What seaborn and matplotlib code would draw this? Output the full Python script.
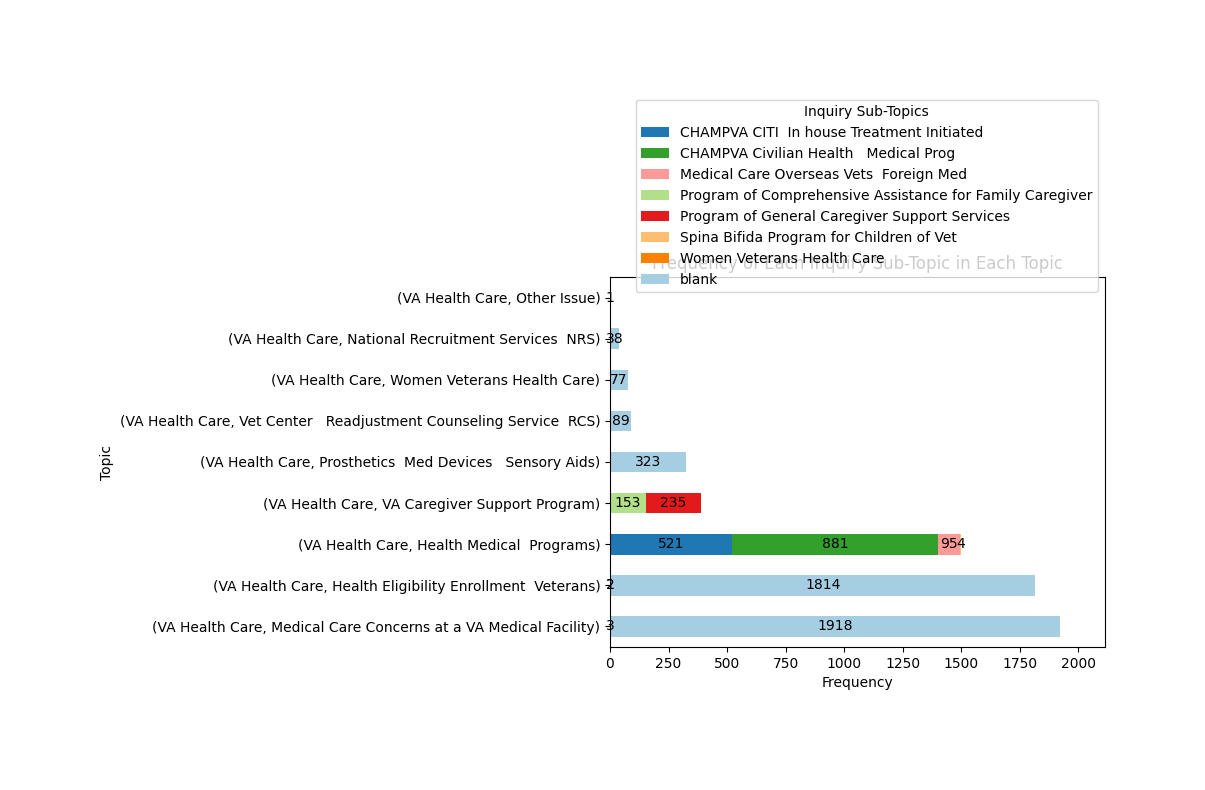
import matplotlib
matplotlib.use("Agg")
import matplotlib.pyplot as plt
import seaborn as sns
import numpy as np

# Topics listed top to bottom as drawn
topics = [
    "(VA Health Care, Other Issue)",
    "(VA Health Care, National Recruitment Services  NRS)",
    "(VA Health Care, Women Veterans Health Care)",
    "(VA Health Care, Vet Center   Readjustment Counseling Service  RCS)",
    "(VA Health Care, Prosthetics  Med Devices   Sensory Aids)",
    "(VA Health Care, VA Caregiver Support Program)",
    "(VA Health Care, Health Medical  Programs)",
    "(VA Health Care, Health Eligibility Enrollment  Veterans)",
    "(VA Health Care, Medical Care Concerns at a VA Medical Facility)",
]

subtopics = [
    "CHAMPVA CITI  In house Treatment Initiated",
    "CHAMPVA Civilian Health   Medical Prog",
    "Medical Care Overseas Vets  Foreign Med",
    "Program of Comprehensive Assistance for Family Caregiver",
    "Program of General Caregiver Support Services",
    "Spina Bifida Program for Children of Vet",
    "Women Veterans Health Care",
    "blank",
]

champva_citi   = [0, 0, 0, 0, 0, 0, 521, 0, 0]
champva_civil  = [0, 0, 0, 0, 0, 0, 881, 0, 0]
overseas       = [0, 0, 0, 0, 0, 0, 95, 1, 0]
comprehensive  = [0, 0, 0, 0, 0, 153, 0, 0, 0]
general_care   = [0, 0, 0, 0, 0, 235, 0, 0, 0]
spina_bifida   = [0, 0, 0, 0, 0, 0, 4, 0, 0]
women_vets     = [0, 0, 0, 0, 0, 0, 0, 2, 3]
blank          = [1, 38, 77, 89, 323, 0, 0, 1814, 1918]

series = [champva_citi, champva_civil, overseas, comprehensive,
          general_care, spina_bifida, women_vets, blank]

colors = ["#1f78b4", "#33a02c", "#fb9a99", "#b2df8a",
          "#e31a1c", "#fdbf6f", "#ff7f00", "#a6cee3"]

fig = plt.figure(figsize=(12.05, 7.9), dpi=100)
ax = fig.add_axes([610 / 1205, 1 - 647 / 790, 495 / 1205, 370 / 790])

left = np.zeros(len(topics))
for name, vals, col in zip(subtopics, series, colors):
    vals = np.array(vals, dtype=float)
    sns.barplot(x=vals, y=topics, order=topics, orient="h", color=col,
                width=0.5, left=left, label=name, ax=ax, saturation=1)
    cont = ax.containers[-1]
    ax.bar_label(cont, labels=[f"{int(v)}" if v > 0 else "" for v in vals],
                 label_type="center", fontsize=10)
    left = left + vals

ax.set_xlim(0, 2115)
ax.set_xlabel("Frequency")
ax.set_ylabel("Topic")
ax.set_title("Frequency of Each Inquiry Sub-Topic in Each Topic")
for s in ax.spines.values():
    s.set_visible(True)
    s.set_color("black")

handles = ax.containers[:len(subtopics)]
ax.legend(handles, subtopics, title="Inquiry Sub-Topics",
          loc="lower right", bbox_to_anchor=(1.0, 0.94))

fig.savefig("out.png", dpi=100)
